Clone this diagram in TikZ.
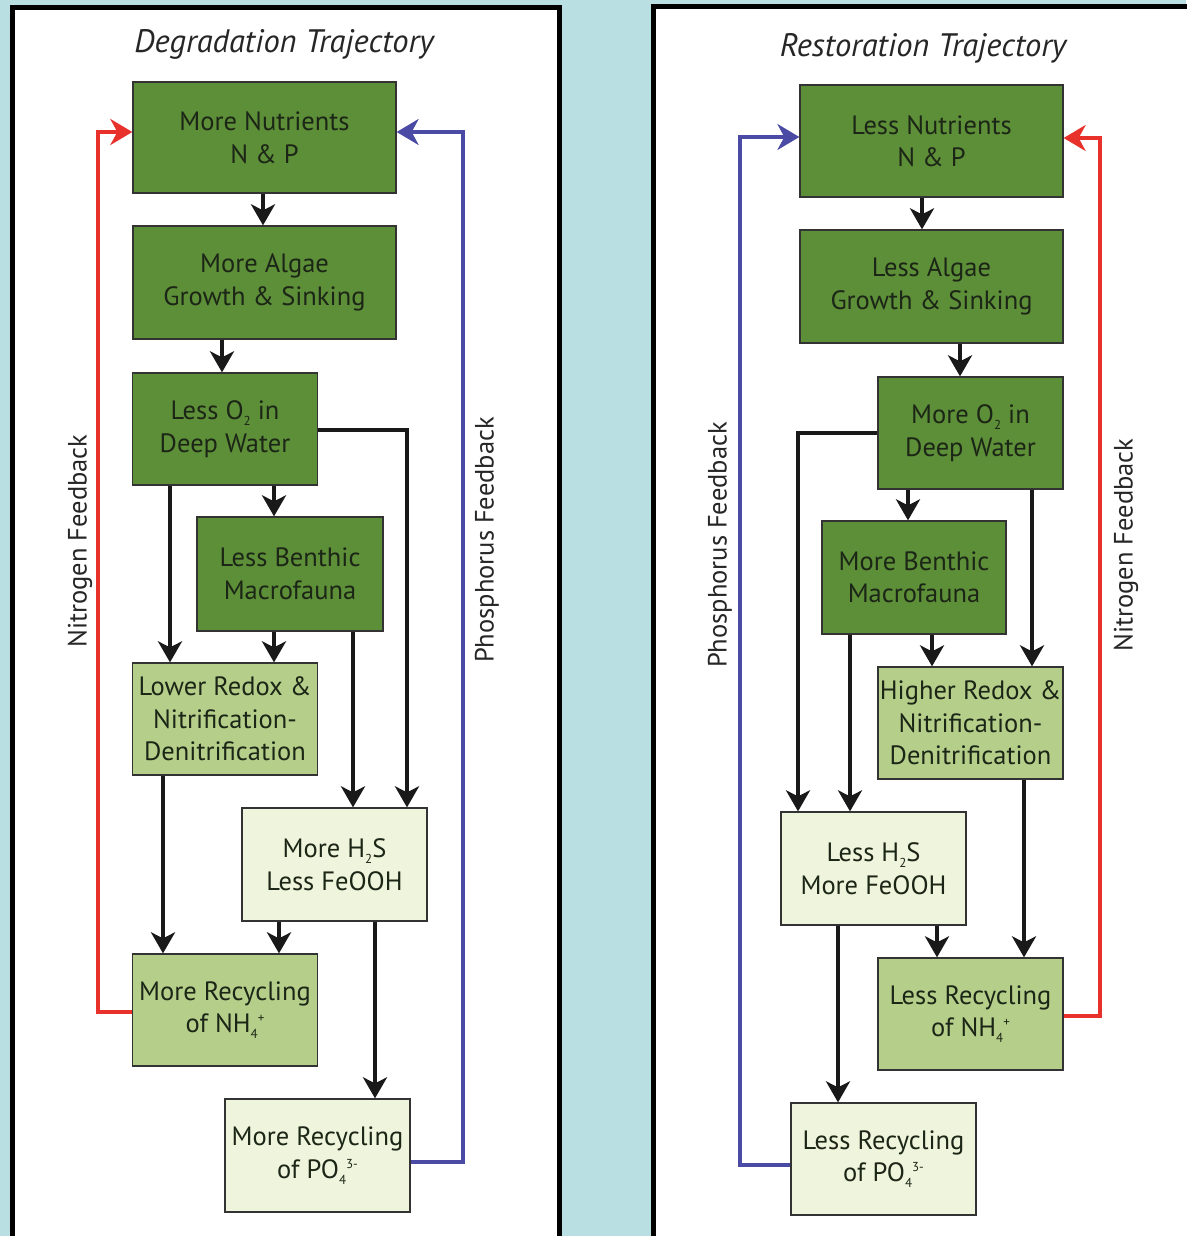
\documentclass[tikz,border=0pt]{standalone}
\usepackage{fontspec}
\setmainfont{PT Sans}
\usetikzlibrary{arrows.meta}
\definecolor{bgblue}{HTML}{B9DFE2}
\definecolor{dgreen}{HTML}{5D8E38}
\definecolor{lgreen}{HTML}{B5CF8B}
\definecolor{vlgreen}{HTML}{EFF4DC}
\definecolor{txt}{HTML}{1C2616}
\definecolor{fbred}{HTML}{E8312B}
\definecolor{fbblue}{HTML}{4B4BA5}
\newcommand\subs[1]{\raisebox{-0.45ex}{\fontsize{13}{13}\selectfont #1}}
\newcommand\sups[1]{\raisebox{0.75ex}{\fontsize{13}{13}\selectfont #1}}
\begin{document}
\begin{tikzpicture}[x=1pt,y=-1pt,
  box/.style={draw=black!80, line width=1.3pt, text=txt, align=center, inner sep=0pt,
    font=\fontsize{26.5}{32.5}\selectfont},
  darkbox/.style={box, fill=dgreen},
  lightbox/.style={box, fill=lgreen},
  palebox/.style={box, fill=vlgreen},
  arr/.style={line width=4pt, draw=black!90, -{Stealth[length=21pt,width=24pt,inset=6pt]}},
  fbr/.style={line width=3.2pt, draw=fbred, -{Stealth[length=22pt,width=26pt,inset=7pt]}},
  fbb/.style={line width=3.2pt, draw=fbblue, -{Stealth[length=22pt,width=26pt,inset=7pt]}},
  ttl/.style={font=\fontsize{32.5}{34}\selectfont\itshape, text=black!85},
  fbl/.style={font=\fontsize{26.5}{28}\selectfont, text=black!85, rotate=90}
]
\useasboundingbox (0,0) rectangle (1186,1236);
\fill[bgblue] (0,0) rectangle (1186,1236);
\draw[line width=5pt, fill=white] (12.5,7.5) rectangle (559.5,1260);
\draw[line width=5pt, fill=white] (653.5,6.5) rectangle (1210,1260);

% ---------------- Left panel ----------------
\node[ttl] (LT) at (284,44) {Degradation Trajectory};
\node[darkbox, minimum width=263pt, minimum height=111pt] (L1) at (264.5,137.5) {More Nutrients\\N \& P};
\node[darkbox, minimum width=263pt, minimum height=113pt] (L2) at (264.5,282.5) {More Algae\\Growth \& Sinking};
\node[darkbox, minimum width=185pt, minimum height=112pt] (L3) at (225,429) {Less O\subs{2} in\\Deep Water};
\node[darkbox, minimum width=186pt, minimum height=114pt] (L4) at (290,574) {Less Benthic\\Macrofauna};
\node[lightbox, minimum width=185pt, minimum height=112pt] (L5) at (225,719) {Lower Redox \&\\Nitrification-\\Denitrification};
\node[palebox, minimum width=185pt, minimum height=113pt] (L6) at (334.5,864.5) {More H\subs{2}S\\Less FeOOH};
\node[lightbox, minimum width=185pt, minimum height=112pt] (L7) at (225,1010) {More Recycling\\of NH\subs{4}\sups{+}};
\node[palebox, minimum width=185pt, minimum height=113pt] (L8) at (317.5,1155.5) {More Recycling\\of PO\subs{4}\sups{3-}};

\draw[arr] (263,0 |- L1.south) -- (263,0 |- L2.north);
\draw[arr] (222,0 |- L2.south) -- (222,0 |- L3.north);
\draw[arr] (274,0 |- L3.south) -- (274,0 |- L4.north);
\draw[arr] (170,0 |- L3.south) -- (170,0 |- L5.north);
\draw[arr] (274,0 |- L4.south) -- (274,0 |- L5.north);
\draw[arr] (L3.east |- 0,430) -| (407,0 |- L6.north);
\draw[arr] (353,0 |- L4.south) -- (353,0 |- L6.north);
\draw[arr] (163,0 |- L5.south) -- (163,0 |- L7.north);
\draw[arr] (279,0 |- L6.south) -- (279,0 |- L7.north);
\draw[arr] (375,0 |- L6.south) -- (375,0 |- L8.north);
\draw[fbr] (L7.west |- 0,1012) -| (98,132) -- (L1.west |- 0,132);
\draw[fbb] (L8.east |- 0,1162) -| (463,132) -- (L1.east |- 0,132);
\node[fbl] (LNF) at (80,541) {Nitrogen Feedback};
\node[fbl] (LPF) at (487,540) {Phosphorus Feedback};

% ---------------- Right panel ----------------
\node[ttl] (RT) at (923,48) {Restoration Trajectory};
\node[darkbox, minimum width=263pt, minimum height=112pt] (R1) at (931.5,141) {Less Nutrients\\N \& P};
\node[darkbox, minimum width=263pt, minimum height=113pt] (R2) at (931.5,286.5) {Less Algae\\Growth \& Sinking};
\node[darkbox, minimum width=185pt, minimum height=112pt] (R3) at (970.5,433) {More O\subs{2} in\\Deep Water};
\node[darkbox, minimum width=184pt, minimum height=113pt] (R4) at (914,577.5) {More Benthic\\Macrofauna};
\node[lightbox, minimum width=185pt, minimum height=112pt] (R5) at (970.5,723) {Higher Redox \&\\Nitrification-\\Denitrification};
\node[palebox, minimum width=185pt, minimum height=113pt] (R6) at (873.5,868.5) {Less H\subs{2}S\\More FeOOH};
\node[lightbox, minimum width=185pt, minimum height=112pt] (R7) at (970.5,1014) {Less Recycling\\of NH\subs{4}\sups{+}};
\node[palebox, minimum width=185pt, minimum height=112pt] (R8) at (883.5,1159) {Less Recycling\\of PO\subs{4}\sups{3-}};

\draw[arr] (922,0 |- R1.south) -- (922,0 |- R2.north);
\draw[arr] (960,0 |- R2.south) -- (960,0 |- R3.north);
\draw[arr] (908,0 |- R3.south) -- (908,0 |- R4.north);
\draw[arr] (R3.west |- 0,433) -| (798,0 |- R6.north);
\draw[arr] (1032,0 |- R3.south) -- (1032,0 |- R5.north);
\draw[arr] (932,0 |- R4.south) -- (932,0 |- R5.north);
\draw[arr] (850,0 |- R4.south) -- (850,0 |- R6.north);
\draw[arr] (1024,0 |- R5.south) -- (1024,0 |- R7.north);
\draw[arr] (937,0 |- R6.south) -- (937,0 |- R7.north);
\draw[arr] (838,0 |- R6.south) -- (838,0 |- R8.north);
\draw[fbb] (R8.west |- 0,1165) -| (740,137) -- (R1.west |- 0,137);
\draw[fbr] (R7.east |- 0,1016) -| (1100,138) -- (R1.east |- 0,138);
\node[fbl] (RPF) at (720,545) {Phosphorus Feedback};
\node[fbl] (RNF) at (1126,545) {Nitrogen Feedback};
\end{tikzpicture}
\end{document}
